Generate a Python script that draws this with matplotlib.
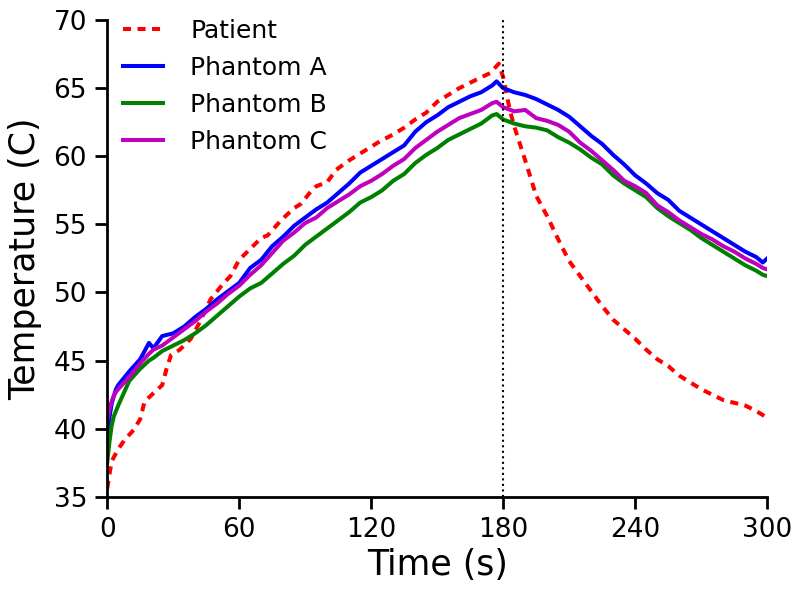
import numpy as np
import matplotlib
matplotlib.use("Agg")
import matplotlib.pyplot as plt

# patient curve (red dashed)
t_patient = [0, 2, 5, 8, 12, 15, 17, 21, 25, 27, 29, 33, 38, 42, 47, 53, 56, 60,
             65, 70, 73, 79, 85, 88, 92, 95, 100, 104, 110, 115, 120, 124, 130,
             135, 140, 145, 150, 155, 160, 165, 170, 174, 178, 180, 183, 185,
             190, 195, 200, 205, 210, 215, 220, 225, 230, 235, 240, 245, 250,
             255, 260, 265, 270, 275, 280, 285, 290, 295, 300]
patient = [35.6, 37.6, 38.5, 39.2, 39.9, 40.7, 42.0, 42.6, 43.2, 44.4, 45.4, 45.8,
           46.6, 47.8, 49.5, 50.7, 51.2, 52.4, 53.2, 54.0, 54.2, 55.3, 56.2, 56.5,
           57.3, 57.8, 58.1, 59.0, 59.7, 60.2, 60.7, 61.1, 61.6, 62.1, 62.7, 63.2,
           64.0, 64.5, 65.0, 65.4, 65.8, 66.1, 66.8, 65.8, 63.4, 62.2, 59.7, 57.1,
           55.6, 53.9, 52.3, 51.2, 50.1, 49.0, 48.0, 47.3, 46.6, 45.8, 45.1, 44.6,
           43.9, 43.4, 42.9, 42.5, 42.1, 41.9, 41.7, 41.3, 40.8]

# phantoms share one time axis
t_phantom = [0, 1, 2, 3, 4, 5, 10, 15, 19, 21, 25, 30, 35, 40, 45, 50, 55, 60,
             65, 70, 75, 80, 85, 90, 95, 100, 105, 110, 115, 120, 125, 130, 135,
             140, 145, 150, 155, 160, 165, 170, 175, 177, 180, 185, 190, 195, 200,
             205, 210, 215, 220, 225, 230, 235, 240, 245, 250, 255, 260, 265, 270,
             275, 280, 285, 290, 295, 298, 300]
phantom_a = [39.5, 40.8, 41.8, 42.4, 42.9, 43.2, 44.2, 45.1, 46.3, 45.9, 46.8, 47.0,
             47.5, 48.2, 48.8, 49.5, 50.1, 50.7, 51.8, 52.4, 53.4, 54.1, 54.9, 55.5,
             56.1, 56.6, 57.3, 58.0, 58.8, 59.3, 59.8, 60.3, 60.8, 61.8, 62.5, 63.0,
             63.6, 64.0, 64.4, 64.7, 65.2, 65.5, 65.0, 64.7, 64.5, 64.2, 63.8, 63.4,
             62.9, 62.2, 61.5, 60.9, 60.1, 59.4, 58.6, 58.0, 57.3, 56.8, 56.0, 55.5,
             55.0, 54.5, 54.0, 53.5, 53.0, 52.6, 52.2, 52.5]
phantom_b = [37.5, 39.0, 40.2, 40.9, 41.3, 41.7, 43.5, 44.4, 45.0, 45.2, 45.7, 46.1,
             46.5, 47.0, 47.6, 48.3, 49.0, 49.7, 50.3, 50.7, 51.4, 52.1, 52.7, 53.5,
             54.1, 54.7, 55.3, 55.9, 56.6, 57.0, 57.5, 58.2, 58.7, 59.5, 60.1, 60.6,
             61.2, 61.6, 62.0, 62.4, 63.0, 63.1, 62.7, 62.4, 62.2, 62.1, 61.9, 61.4,
             61.0, 60.5, 59.9, 59.4, 58.6, 58.0, 57.5, 57.0, 56.2, 55.6, 55.1, 54.6,
             54.0, 53.5, 53.0, 52.5, 52.0, 51.6, 51.3, 51.2]
phantom_c = [40.6, 41.4, 42.0, 42.4, 42.7, 42.9, 43.8, 44.8, 45.5, 45.8, 46.1, 46.7,
             47.3, 47.9, 48.6, 49.2, 49.9, 50.5, 51.3, 52.0, 52.9, 53.8, 54.4, 55.1,
             55.5, 56.2, 56.7, 57.2, 57.8, 58.2, 58.7, 59.3, 59.8, 60.6, 61.2, 61.8,
             62.3, 62.8, 63.1, 63.4, 63.9, 64.0, 63.6, 63.3, 63.4, 62.8, 62.6, 62.3,
             61.8, 61.0, 60.4, 59.7, 59.0, 58.2, 57.8, 57.3, 56.4, 55.9, 55.3, 54.8,
             54.3, 53.9, 53.4, 53.0, 52.5, 52.1, 51.8, 51.7]

xticks = [0, 60, 120, 180, 240, 300]
yticks = [35, 40, 45, 50, 55, 60, 65, 70]

fig = plt.figure(figsize=(8, 5.9), dpi=100)
ax = fig.add_axes([0.134, 0.158, 0.825, 0.808])

lw = 2.9
ax.plot(t_patient, patient, color="red", ls="--", dashes=(2.0, 1.6), lw=lw,
        label="Patient")
ax.plot(t_phantom, phantom_a, color="blue", lw=lw, label="Phantom A")
ax.plot(t_phantom, phantom_b, color="green", lw=lw, label="Phantom B")
ax.plot(t_phantom, phantom_c, color="m", lw=lw, label="Phantom C")
ax.axvline(180, color="black", ls=":", lw=1.5)

ax.set_xlim(0, 300)
ax.set_ylim(35, 70)
ax.set_xticks(xticks)
ax.set_yticks(yticks)
ax.set_xlabel("Time (s)", fontsize=25, labelpad=4)
ax.set_ylabel("Temperature (C)", fontsize=25, labelpad=8)
ax.tick_params(labelsize=19, direction="out", length=8.5, width=2, pad=6)

ax.spines["top"].set_visible(False)
ax.spines["right"].set_visible(False)
ax.spines["left"].set_linewidth(2)
ax.spines["bottom"].set_linewidth(2)

ax.legend(loc="upper left", frameon=False, fontsize=18, handlelength=1.6,
          handletextpad=1.1, labelspacing=0.52, borderaxespad=0.2,
          bbox_to_anchor=(0.001, 1.034))

fig.savefig("out.png", dpi=100)
